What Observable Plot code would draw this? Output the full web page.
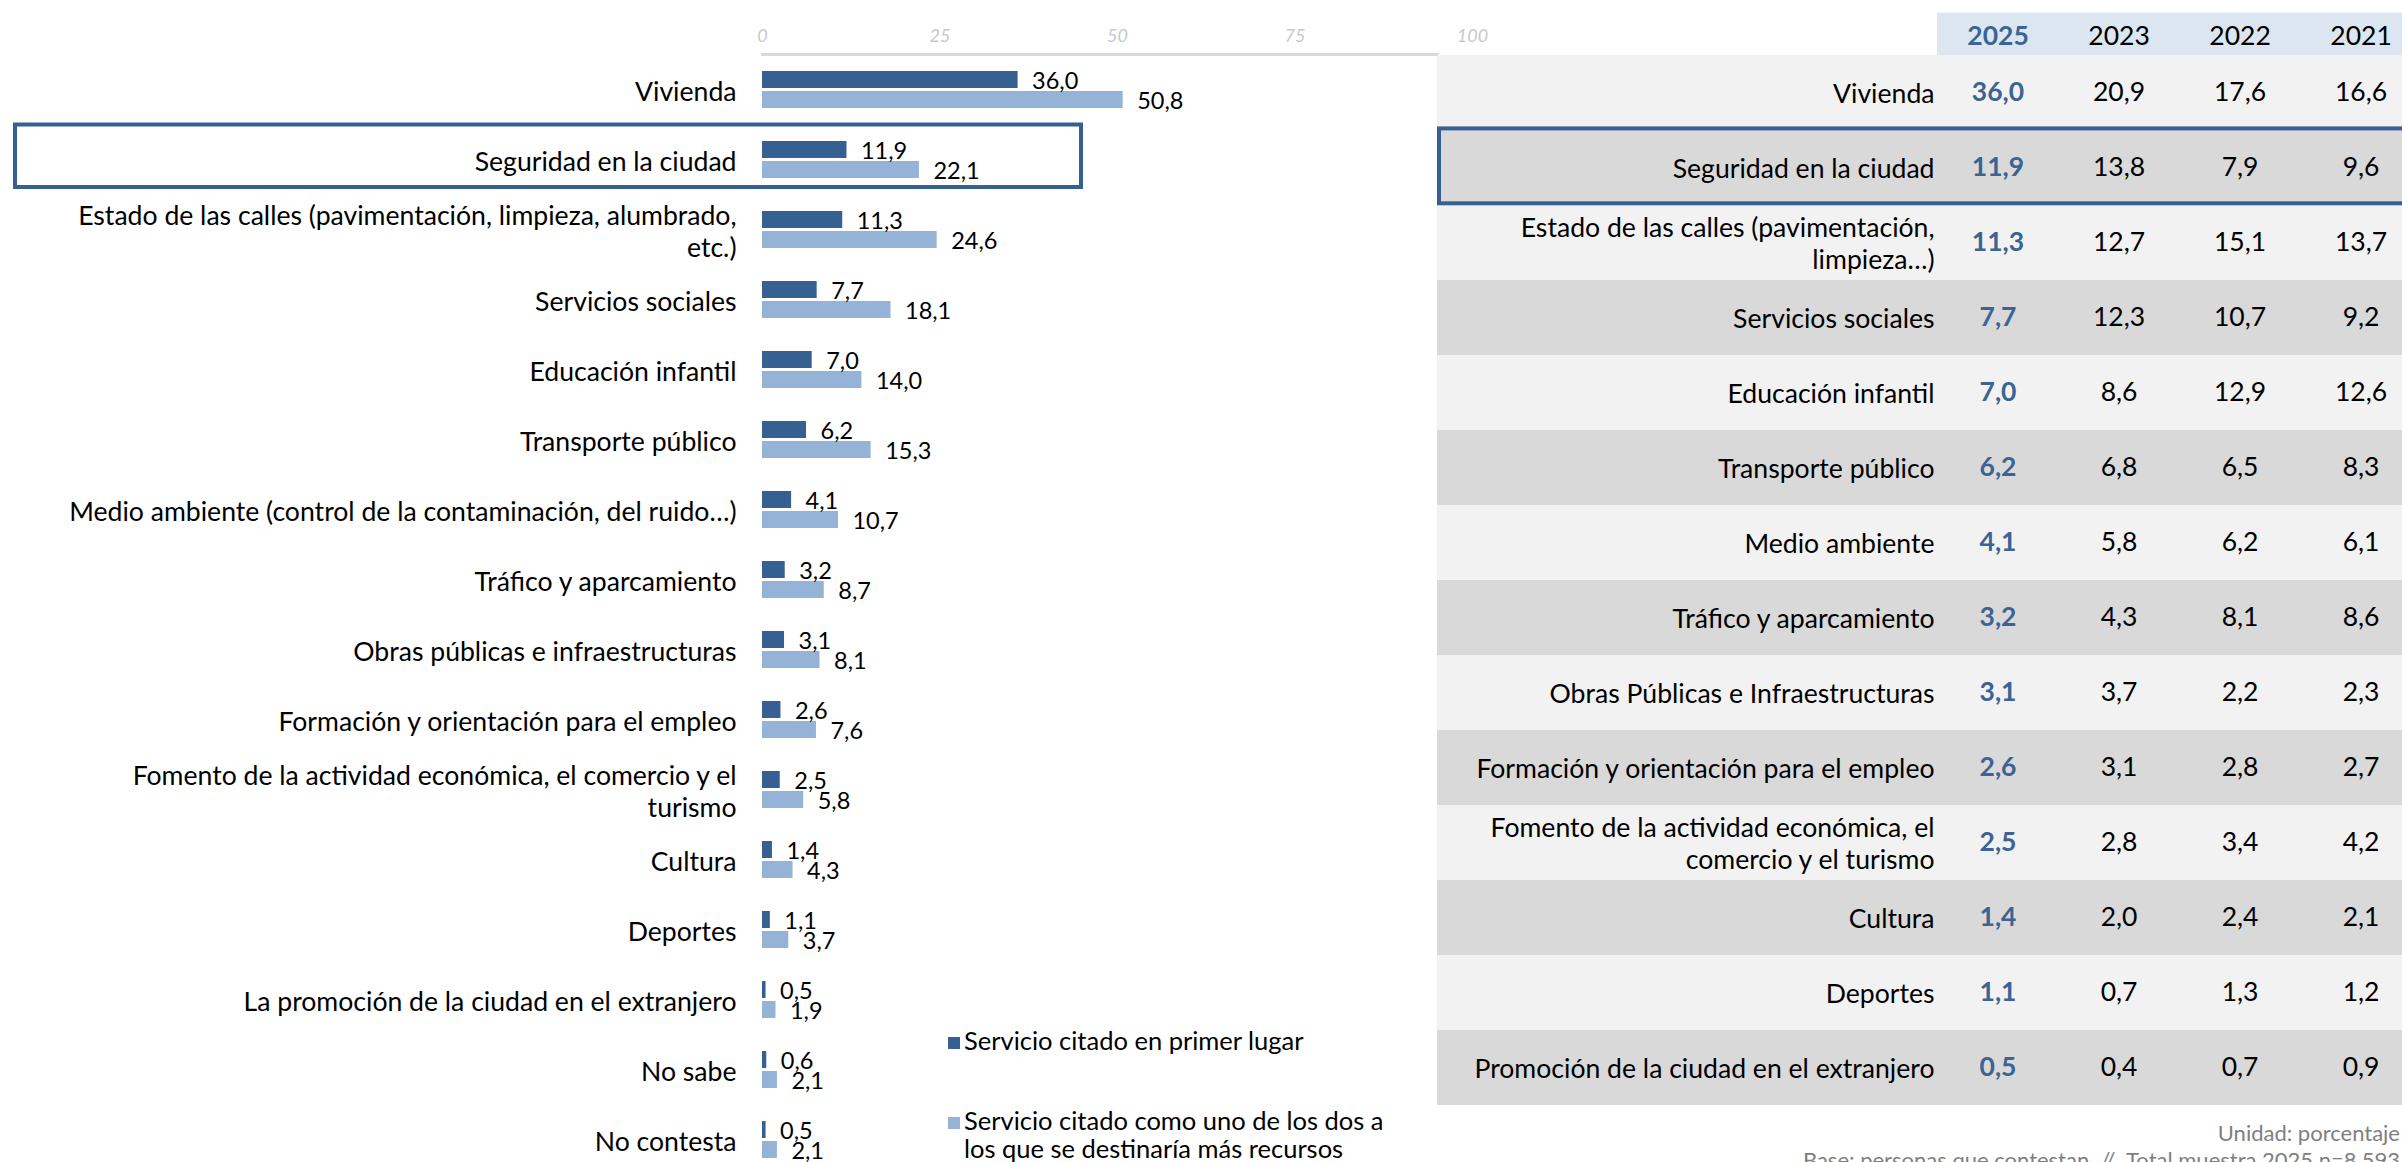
<!DOCTYPE html>
<html>
<head>
<meta charset="utf-8">
<script src="https://cdn.jsdelivr.net/npm/d3@7"></script>
<script src="https://cdn.jsdelivr.net/npm/@observablehq/plot@0.6"></script>
<style>
  html, body { margin: 0; padding: 0; background: #fff; overflow: hidden; }
  #page { position: relative; width: 2402px; height: 1162px; overflow: hidden; font-family: Lato, sans-serif; }
  #chart { position: absolute; left: 0; top: 0; width: 1480px; height: 1162px; }
  #table { position: absolute; left: 1437px; top: 0; width: 965px; height: 1162px; overflow: hidden; }
  .leg { position: absolute; left: 948px; font-size: 25.5px; line-height: 28px; color: #000; }
  .leg .sw { position: absolute; left: 0; width: 12px; height: 12px; }
  .leg .tx { position: absolute; left: 16px; top: 0; white-space: nowrap; }
  .foot { position: absolute; right: 2px; font-size: 22px; line-height: 27px; color: #7f7f7f; white-space: pre; }
</style>
</head>
<body>
<div id="page">
  <div id="chart"></div>
  <div id="table"></div>
  <div id="legend"></div>
  <div class="foot" style="top:1119px">Unidad: porcentaje</div>
  <div class="foot" style="top:1146px">Base: personas que contestan  //  Total muestra 2025 n=8.593</div>
</div>
<script>
// ---- Left chart data ----
const categories = [
  "Vivienda",
  "Seguridad en la ciudad",
  "Estado de las calles (pavimentación, limpieza, alumbrado, etc.)",
  "Servicios sociales",
  "Educación infantil",
  "Transporte público",
  "Medio ambiente (control de la contaminación, del ruido…)",
  "Tráfico y aparcamiento",
  "Obras públicas e infraestructuras",
  "Formación y orientación para el empleo",
  "Fomento de la actividad económica, el comercio y el turismo",
  "Cultura",
  "Deportes",
  "La promoción de la ciudad en el extranjero",
  "No sabe",
  "No contesta"
];
const categoryLabels = [
  "Vivienda",
  "Seguridad en la ciudad",
  "Estado de las calles (pavimentación, limpieza, alumbrado,\netc.)",
  "Servicios sociales",
  "Educación infantil",
  "Transporte público",
  "Medio ambiente (control de la contaminación, del ruido…)",
  "Tráfico y aparcamiento",
  "Obras públicas e infraestructuras",
  "Formación y orientación para el empleo",
  "Fomento de la actividad económica, el comercio y el\nturismo",
  "Cultura",
  "Deportes",
  "La promoción de la ciudad en el extranjero",
  "No sabe",
  "No contesta"
];
const firstPlace = [36.0, 11.9, 11.3, 7.7, 7.0, 6.2, 4.1, 3.2, 3.1, 2.6, 2.5, 1.4, 1.1, 0.5, 0.6, 0.5];
const topTwo     = [50.8, 22.1, 24.6, 18.1, 14.0, 15.3, 10.7, 8.7, 8.1, 7.6, 5.8, 4.3, 3.7, 1.9, 2.1, 2.1];
const xTicks = [0, 25, 50, 75, 100];
const seriesNames = ["Servicio citado en primer lugar", "Servicio citado como uno de los dos a\nlos que se destinaría más recursos"];
const highlightLeft = "Seguridad en la ciudad";

// ---- Right table data ----
const tableRows = [
  "Vivienda",
  "Seguridad en la ciudad",
  "Estado de las calles (pavimentación, limpieza…)",
  "Servicios sociales",
  "Educación infantil",
  "Transporte público",
  "Medio ambiente",
  "Tráfico y aparcamiento",
  "Obras Públicas e Infraestructuras",
  "Formación y orientación para el empleo",
  "Fomento de la actividad económica, el comercio y el turismo",
  "Cultura",
  "Deportes",
  "Promoción de la ciudad en el extranjero"
];
const tableLabels = [
  "Vivienda",
  "Seguridad en la ciudad",
  "Estado de las calles (pavimentación,\nlimpieza…)",
  "Servicios sociales",
  "Educación infantil",
  "Transporte público",
  "Medio ambiente",
  "Tráfico y aparcamiento",
  "Obras Públicas e Infraestructuras",
  "Formación y orientación para el empleo",
  "Fomento de la actividad económica, el\ncomercio y el turismo",
  "Cultura",
  "Deportes",
  "Promoción de la ciudad en el extranjero"
];
const tableYears = ["2025", "2023", "2022", "2021"];
const y2025 = [36.0, 11.9, 11.3, 7.7, 7.0, 6.2, 4.1, 3.2, 3.1, 2.6, 2.5, 1.4, 1.1, 0.5];
const y2023 = [20.9, 13.8, 12.7, 12.3, 8.6, 6.8, 5.8, 4.3, 3.7, 3.1, 2.8, 2.0, 0.7, 0.4];
const y2022 = [17.6, 7.9, 15.1, 10.7, 12.9, 6.5, 6.2, 8.1, 2.2, 2.8, 3.4, 2.4, 1.3, 0.7];
const y2021 = [16.6, 9.6, 13.7, 9.2, 12.6, 8.3, 6.1, 8.6, 2.3, 2.7, 4.2, 2.1, 1.2, 0.9];
const highlightTable = "Seguridad en la ciudad";

// ---- Styles ----
const DARK = "#376092";
const LIGHT = "#95B3D7";
const BLUE_TEXT = "#3B6494";
const fmt = v => d3.format(".1f")(v).replace(".", ",");

// ---- Left chart ----
const bars = categories.map((c, i) => ({cat: c, label: categoryLabels[i], first: firstPlace[i], two: topTwo[i]}));

const chart = Plot.plot({
  width: 1480,
  height: 1162,
  marginLeft: 762,
  marginRight: 43,
  marginTop: 55,
  marginBottom: 0,
  x: {domain: [0, 100], range: [762, 1472], label: null},
  y: {domain: categories, range: [55, 1175], padding: 0, axis: null},
  style: {fontFamily: "Lato, sans-serif", background: "transparent", overflow: "visible"},
  marks: [
    Plot.frame({anchor: "top", stroke: "#D9D9D9", strokeWidth: 3, dy: -1}),
    Plot.axisX({ticks: xTicks, anchor: "top", tickSize: 0, tickPadding: 14, label: null,
      fill: "#C8C8C8", fontSize: 18, fontStyle: "italic", tickFormat: d => String(d)}),
    Plot.barX(bars, {y: "cat", x: "first", fill: DARK, insetTop: 16, insetBottom: 37}),
    Plot.barX(bars, {y: "cat", x: "two", fill: LIGHT, insetTop: 36, insetBottom: 17}),
    Plot.text(bars, {y: "cat", x: "first", text: d => fmt(d.first), dx: 14, dy: -9,
      textAnchor: "start", fontSize: 23.5, fill: "#000"}),
    Plot.text(bars, {y: "cat", x: "two", text: d => fmt(d.two), dx: 14, dy: 11,
      textAnchor: "start", fontSize: 23.5, fill: "#000"}),
    Plot.text(bars, {y: "cat", text: "label", frameAnchor: "left", textAnchor: "end", dx: -26,
      fontSize: 26.6, lineHeight: 1.2, fill: "#000"}),
    Plot.cell([highlightLeft], {y: d => d, fill: "none", stroke: DARK, strokeWidth: 4,
      insetLeft: -747, insetRight: 356, insetTop: -0.5, insetBottom: 8})
  ]
});
document.getElementById("chart").append(chart);

// ---- Table ----
const HEADER = "__header__";
const yearArrays = [y2025, y2023, y2022, y2021];
const tableData = [];
tableRows.forEach((r, i) => yearArrays.forEach((arr, j) => tableData.push({row: r, year: tableYears[j], v: arr[i]})));
const rowInfo = tableRows.map((r, i) => ({row: r, label: tableLabels[i], shade: i % 2 ? "#D9D9D9" : "#F2F2F2"}));
const ROW_H = 75.6;

const table = Plot.plot({
  width: 965,
  height: 1162,
  margin: 0,
  x: {domain: tableYears, range: [500, 984], padding: 0, axis: null},
  y: {domain: [HEADER, ...tableRows], range: [51 - ROW_H, 51 + tableRows.length * ROW_H], padding: 0, axis: null},
  color: {type: "identity"},
  style: {fontFamily: "Lato, sans-serif", background: "transparent", overflow: "visible"},
  marks: [
    Plot.cell(rowInfo, {y: "row", fill: "shade"}),
    Plot.cell(tableYears, {x: d => d, y: () => HEADER, fill: "#DCE6F1", insetTop: ROW_H - 43}),
    Plot.text(tableYears.filter(d => d === "2025"), {x: d => d, y: () => HEADER, text: d => d, dy: 19,
      fontSize: 26.5, fontWeight: "bold", fill: BLUE_TEXT}),
    Plot.text(tableYears.filter(d => d !== "2025"), {x: d => d, y: () => HEADER, text: d => d, dy: 19,
      fontSize: 26.5, fill: "#000"}),
    Plot.text(rowInfo, {y: "row", text: "label", frameAnchor: "left", textAnchor: "end", dx: 497,
      fontSize: 26.6, lineHeight: 1.18, fill: "#000"}),
    Plot.text(tableData.filter(d => d.year === "2025"), {x: "year", y: "row", text: d => fmt(d.v),
      fontSize: 26.5, fontWeight: "bold", fill: BLUE_TEXT}),
    Plot.text(tableData.filter(d => d.year !== "2025"), {x: "year", y: "row", text: d => fmt(d.v),
      fontSize: 26.5, fill: "#000"}),
    Plot.cell([highlightTable], {y: d => d, fill: "none", stroke: DARK, strokeWidth: 4,
      insetLeft: 2, insetRight: -10, insetTop: -1.6, insetBottom: 1.7})
  ]
});
document.getElementById("table").append(table);

// ---- Legend (HTML) ----
const legend = document.getElementById("legend");
const legendItems = [
  {name: seriesNames[0], color: DARK, top: 1026},
  {name: seriesNames[1], color: LIGHT, top: 1106}
];
for (const it of legendItems) {
  const div = document.createElement("div");
  div.className = "leg";
  div.style.top = it.top + "px";
  const sw = document.createElement("span");
  sw.className = "sw";
  sw.style.background = it.color;
  sw.style.top = "11px";
  const tx = document.createElement("span");
  tx.className = "tx";
  tx.innerHTML = it.name.split("\n").join("<br>");
  div.append(sw, tx);
  legend.append(div);
}
</script>
</body>
</html>
